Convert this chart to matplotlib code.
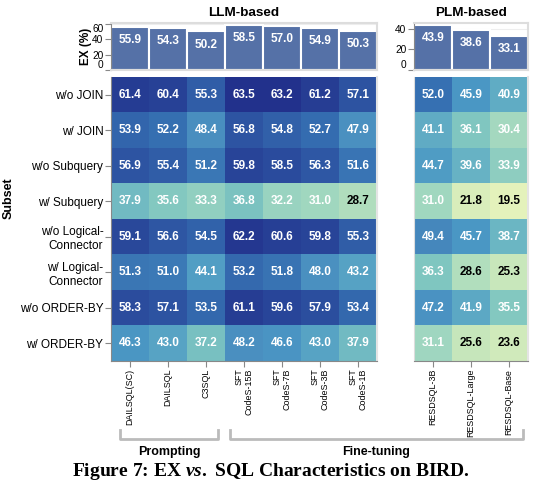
import numpy as np
import matplotlib
matplotlib.use("Agg")
import matplotlib.pyplot as plt
from matplotlib.colors import LinearSegmentedColormap
from matplotlib.lines import Line2D

plt.rcParams['font.family'] = ['Liberation Sans', 'DejaVu Sans']
plt.rcParams['mathtext.fontset'] = 'custom'
plt.rcParams['mathtext.it'] = 'Liberation Serif:italic:bold'
plt.rcParams['mathtext.rm'] = 'Liberation Serif:bold'

# ---------- data ----------
subsets = ["w/o JOIN", "w/ JOIN", "w/o Subquery", "w/ Subquery",
           "w/o Logical-\nConnector", "w/ Logical-\nConnector",
           "w/o ORDER-BY", "w/ ORDER-BY"]

llm_models = ["DAILSQL(SC)", "DAILSQL", "C3SQL", "SFT\nCodeS-15B",
              "SFT\nCodeS-7B", "SFT\nCodeS-3B", "SFT\nCodeS-1B"]
plm_models = ["RESDSQL-3B", "RESDSQL-Large", "RESDSQL-Base"]

llm_ex = [55.9, 54.3, 50.2, 58.5, 57.0, 54.9, 50.3]
plm_ex = [43.9, 38.6, 33.1]

llm_vals = np.array([
    [61.4, 60.4, 55.3, 63.5, 63.2, 61.2, 57.1],
    [53.9, 52.2, 48.4, 56.8, 54.8, 52.7, 47.9],
    [56.9, 55.4, 51.2, 59.8, 58.5, 56.3, 51.6],
    [37.9, 35.6, 33.3, 36.8, 32.2, 31.0, 28.7],
    [59.1, 56.6, 54.5, 62.2, 60.6, 59.8, 55.3],
    [51.3, 51.0, 44.1, 53.2, 51.8, 48.0, 43.2],
    [58.3, 57.1, 53.5, 61.1, 59.6, 57.9, 53.4],
    [46.3, 43.0, 37.2, 48.2, 46.6, 43.0, 37.9],
])
plm_vals = np.array([
    [52.0, 45.9, 40.9],
    [41.1, 36.1, 30.4],
    [44.7, 39.6, 33.9],
    [31.0, 21.8, 19.5],
    [49.4, 45.7, 38.7],
    [36.3, 28.6, 25.3],
    [47.2, 41.9, 35.5],
    [31.1, 25.6, 23.6],
])

# yellow-green-blue ramp, softened to match the original rendering
cmap = LinearSegmentedColormap.from_list("ygb", [
    (0.000, "#e4f2bb"),
    (0.132, "#c8e7bb"),
    (0.261, "#a0d7c0"),
    (0.382, "#7fc6c0"),
    (0.436, "#6bb6c4"),
    (0.595, "#4b98c5"),
    (0.657, "#4a8fc0"),
    (0.743, "#3670b2"),
    (0.848, "#2e55a3"),
    (1.000, "#22318c"),
])
vmin = min(llm_vals.min(), plm_vals.min())
vmax = max(llm_vals.max(), plm_vals.max())

W, H = 543, 497
fig = plt.figure(figsize=(W / 100, H / 100), dpi=100, facecolor="white")


def box(x0, y0, x1, y1):
    # pixel box (top-left origin) -> figure fraction
    return [x0 / W, 1 - y1 / H, (x1 - x0) / W, (y1 - y0) / H]


bar_color = "#5571a7"
frame_c = "#dddddd"
axis_c = "#888888"


def bar_panel(rect, vals, top, ticks):
    ax = fig.add_axes(rect)
    x = np.arange(len(vals))
    ax.bar(x, vals, width=1.0, color=bar_color, edgecolor="white", linewidth=1.5)
    for i, v in enumerate(vals):
        ax.annotate(f"{v:.1f}", (i, v), xytext=(0, -9.5), textcoords="offset points",
                    ha="center", va="center", color="white", fontsize=8.5,
                    fontweight="bold")
    ax.set_xlim(-0.5, len(vals) - 0.5)
    ax.set_ylim(0, top)
    ax.set_xticks([])
    ax.set_yticks(ticks)
    ax.set_yticklabels([str(t) for t in ticks], fontsize=7.3)
    ax.tick_params(axis="y", length=4, width=0.8, color=axis_c, pad=1.5)
    for s in ax.spines.values():
        s.set_color(frame_c)
        s.set_linewidth(1.5)
    ax.spines["left"].set_color(axis_c)
    ax.spines["left"].set_linewidth(0.8)
    ax.yaxis.grid(True, color="#eeeeee", linewidth=0.8)
    ax.set_axisbelow(True)
    labels = ax.get_yticklabels()
    labels[0].set_va("bottom")
    if ticks[-1] >= top - 1:
        labels[-1].set_va("top")
    return ax


bar_panel(box(111, 23, 377, 70), llm_ex, 61, [0, 20, 40, 60])
bar_panel(box(414, 23, 528, 70), plm_ex, 45.5, [0, 20, 40])


def heat_panel(rect, vals, xlabels, ylabels):
    ax = fig.add_axes(rect)
    ax.imshow(vals, cmap=cmap, vmin=vmin, vmax=vmax, aspect="auto")
    for r in range(vals.shape[0]):
        for c in range(vals.shape[1]):
            v = vals[r, c]
            ax.text(c, r, f"{v:.1f}", ha="center", va="center", fontsize=8.5,
                    fontweight="bold", color="black" if v < 30 else "white")
    ax.set_xticks(np.arange(vals.shape[1]))
    ax.set_xticklabels(xlabels, rotation=90, fontsize=6.4, va="top",
                       ha="center", multialignment="right")
    if ylabels:
        ax.set_yticks(np.arange(vals.shape[0]))
        ax.set_yticklabels(ylabels, fontsize=8.5, multialignment="right")
    else:
        ax.set_yticks([])
    ax.tick_params(length=4, width=0.8, color=axis_c, pad=1.5)
    ax.spines["top"].set_visible(False)
    ax.spines["right"].set_color("#e4e4e4")
    ax.spines["right"].set_linewidth(1.5)
    ax.spines["left"].set_color(axis_c if ylabels else "#dddddd")
    ax.spines["left"].set_linewidth(0.8)
    ax.spines["bottom"].set_color(axis_c)
    ax.spines["bottom"].set_linewidth(0.8)
    return ax


heat_panel(box(111, 77, 377, 361), llm_vals, llm_models, subsets)
heat_panel(box(414, 77, 528, 361), plm_vals, plm_models, None)

# titles and axis names
fig.text(244 / W, 1 - 13 / H, "LLM-based", ha="center", va="center",
         fontsize=9.7, fontweight="bold")
fig.text(471 / W, 1 - 13 / H, "PLM-based", ha="center", va="center",
         fontsize=9.7, fontweight="bold")
fig.text(86 / W, 1 - 46 / H, "EX (%)", ha="center", va="center", rotation=90,
         fontsize=8.5, fontweight="bold")
fig.text(9 / W, 1 - 198 / H, "Subset", ha="center", va="center", rotation=90,
         fontsize=9, fontweight="bold")

# group brackets
br_c = "#bbbbbb"
for x0, x1, name in [(120, 218, "Prompting"), (230, 523, "Fine-tuning")]:
    fig.add_artist(Line2D([x0 / W, x0 / W, x1 / W, x1 / W],
                          [1 - 430 / H, 1 - 439 / H, 1 - 439 / H, 1 - 430 / H],
                          transform=fig.transFigure, color=br_c, linewidth=2))
    fig.text((x0 + x1) / 2 / W, 1 - 452 / H, name, ha="center", va="center",
             fontsize=9, fontweight="bold")

fig.text(271 / W, 1 - 472 / H, r"Figure 7: EX $\mathit{vs.}$ SQL Characteristics on BIRD.",
         ha="center", va="center", fontsize=14, fontweight="bold",
         family="Liberation Serif")

fig.savefig("out.png", dpi=100, facecolor="white")
